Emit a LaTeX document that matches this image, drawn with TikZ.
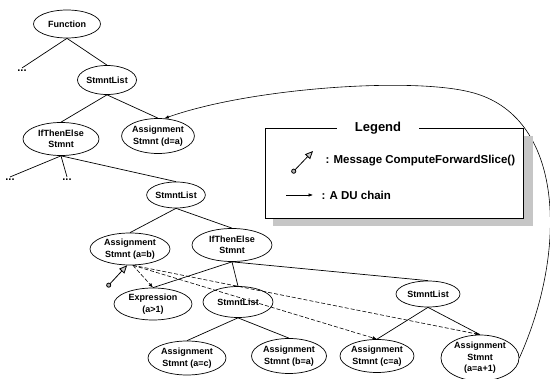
\documentclass[tikz,border=0pt]{standalone}
\usepackage{fontspec}
\setmainfont{Liberation Sans}
\usetikzlibrary{shapes.geometric,arrows.meta}
\begin{document}
\begin{tikzpicture}[x=1pt,y=-1pt,
  tn/.style={ellipse,draw,line width=0.7pt,inner sep=0pt,align=center,
             font=\bfseries\fontsize{9}{11.5}\selectfont},
  edge/.style={line width=0.7pt},
  dots/.style={inner xsep=1pt,inner ysep=2pt,font=\bfseries\fontsize{11}{11}\selectfont},
  du/.style={line width=0.6pt,-{Latex[length=4.5pt,width=3.5pt]}},
  duslice/.style={du,dash pattern=on 4pt off 2pt},
  msgarrow/.style={line width=0.8pt,
    {Circle[length=5pt,fill=gray!60]}-{Triangle[length=8pt,width=7pt,fill=gray!40]}},
  lgtext/.style={anchor=west,font=\bfseries\fontsize{11.5}{13}\selectfont}]
\useasboundingbox (0,0) rectangle (550,379);

% syntax tree
\node[tn,minimum width=67,minimum height=28] (fn) at (67,24) {Function};
\node[dots] (d1) at (22,71) {...};
\node[tn,minimum width=59,minimum height=29] (sl1) at (107,80) {StmntList};
\node[tn,minimum width=76,minimum height=33] (ite1) at (61,139) {IfThenElse\\Stmnt};
\node[tn,minimum width=70,minimum height=35] (asDA) at (158,136) {Assignment\\Stmnt (d=a)};
\node[dots] (d2) at (10,180) {...};
\node[dots] (d3) at (67,180) {...};
\node[tn,minimum width=58,minimum height=26] (sl2) at (176,195) {StmntList};
\node[tn,minimum width=80,minimum height=32] (asAB) at (130,249) {Assignment\\Stmnt (a=b)};
\node[tn,minimum width=80,minimum height=33] (ite2) at (232,245) {IfThenElse\\Stmnt};
\node[tn,minimum width=78,minimum height=32] (expr) at (153,304) {Expression\\(a>1)};
\node[tn,minimum width=70,minimum height=31] (sl2b) at (238,302) {StmntList};
\node[tn,minimum width=64,minimum height=26] (sl3) at (428,294) {StmntList};
\node[tn,minimum width=78,minimum height=34] (asAC) at (187,358) {Assignment\\Stmnt (a=c)};
\node[tn,minimum width=75,minimum height=35] (asBA) at (289,356) {Assignment\\Stmnt (b=a)};
\node[tn,minimum width=74,minimum height=33] (asCA) at (377,356) {Assignment\\Stmnt (c=a)};
\node[tn,minimum width=78,minimum height=46] (asAA) at (480,358) {Assignment\\Stmnt\\(a=a+1)};

\draw[edge] (fn.south) -- (d1.north);
\draw[edge] (fn.south) -- (sl1.north);
\draw[edge] (sl1.south) -- (ite1.north);
\draw[edge] (sl1.south) -- (asDA.north);
\draw[edge] (ite1.south) -- (d2.north);
\draw[edge] (ite1.south) -- (d3.north);
\draw[edge] (ite1.south) -- (sl2.north);
\draw[edge] (sl2.south) -- (asAB.north);
\draw[edge] (sl2.south) -- (ite2.north);
\draw[edge] (ite2.south) -- (expr.north);
\draw[edge] (ite2.south) -- (sl2b.north);
\draw[edge] (ite2.south) -- (sl3.north);
\draw[edge] (sl2b.south) -- (asAC.north);
\draw[edge] (sl2b.south) -- (asBA.north);
\draw[edge] (sl3.south) -- (asCA.north);
\draw[edge] (sl3.south) -- (asAA.north);

% DU chains of a=b
\draw[duslice] (asAB.-80) -- (expr.north);
\draw[duslice] (asAB.-80) -- (asCA.north);
\draw[duslice] (asAB.-80) -- (asAA.north);

% DU chain a=a+1 -> d=a
\draw[du] (asAA.east) .. controls (568,250) and (565,115) .. (470,92)
          .. controls (410,77) and (250,88) .. (asDA.70);

% message sent to a=b
\coordinate (msg) at (107,287);
\draw[msgarrow] (msg) -- (asAB.-100);

% legend
\fill[gray!45] (273,136) rectangle (533,226);
\draw[fill=white,line width=0.7pt] (265,128) rectangle (523,218);
\node[fill=white,inner xsep=18,inner ysep=1,font=\bfseries\fontsize{13}{15}\selectfont] (lg) at (378,128) {Legend};
\coordinate (lm1) at (292,173);
\coordinate (lm2) at (313,151);
\draw[msgarrow] (lm1) -- (lm2);
\node[lgtext] (lmt) at (322,161) {: Message ComputeForwardSlice()};
\coordinate (ld1) at (286,195);
\coordinate (ld2) at (313,195);
\draw[du] (ld1) -- (ld2);
\node[lgtext] (ldt) at (318,195) {: A DU chain};
\end{tikzpicture}
\end{document}
